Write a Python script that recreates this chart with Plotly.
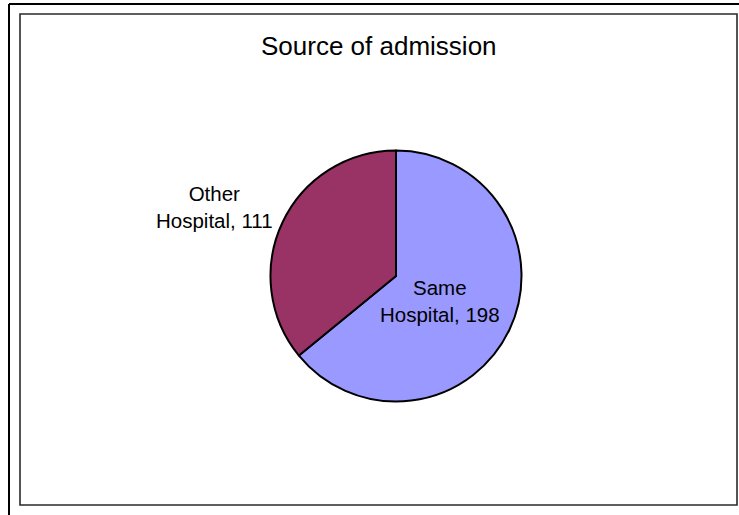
import plotly.graph_objects as go

# Source of admission counts
labels = ["Same Hospital", "Other Hospital"]
counts = [198, 111]
colors = ["#9999FF", "#993366"]

W, H = 739, 515


def px(x):
    return x / W


def py(y):
    return 1 - y / H


# Pie geometry in pixels (centre and radius)
cx, cy, r = 396, 276, 125.5

fig = go.Figure(
    go.Pie(
        labels=labels,
        values=counts,
        sort=False,
        direction="clockwise",
        rotation=0,
        marker=dict(colors=colors, line=dict(color="black", width=2)),
        textinfo="none",
        hoverinfo="label+value",
        showlegend=False,
        domain=dict(x=[px(cx - r), px(cx + r)], y=[py(cy + r), py(cy - r)]),
    )
)

font_lbl = dict(family="Liberation Sans, Arial, sans-serif", size=20.5, color="black")

# Slice labels: name split over two lines, followed by the count
label_pos = [(440, 301), (214, 207)]
annotations = []
for name, val, (lx, ly) in zip(labels, counts, label_pos):
    first, second = name.split(" ", 1)
    annotations.append(
        dict(
            x=px(lx), y=py(ly), xref="paper", yref="paper",
            text=f"{first}<br>{second}, {val}",
            showarrow=False, font=font_lbl,
            xanchor="center", yanchor="middle", align="center",
        )
    )

annotations.append(
    dict(
        x=px(379), y=py(46), xref="paper", yref="paper",
        text="Source of admission", showarrow=False,
        font=dict(family="Liberation Sans, Arial, sans-serif", size=26, color="black"),
        xanchor="center", yanchor="middle",
    )
)

shapes = [
    # outer frame (top and left edges)
    dict(type="line", xref="paper", yref="paper", x0=px(9), y0=py(4), x1=px(739), y1=py(4),
         line=dict(color="black", width=2)),
    dict(type="line", xref="paper", yref="paper", x0=px(9), y0=py(4), x1=px(9), y1=py(515),
         line=dict(color="black", width=2)),
    # chart area border
    dict(type="rect", xref="paper", yref="paper", x0=px(20), y0=py(14), x1=px(737), y1=py(505),
         line=dict(color="#2a2a2a", width=1.6)),
]

fig.update_layout(
    width=W, height=H,
    margin=dict(l=0, r=0, t=0, b=0),
    paper_bgcolor="white", plot_bgcolor="white",
    annotations=annotations,
    shapes=shapes,
)

fig.write_html("out.html")
